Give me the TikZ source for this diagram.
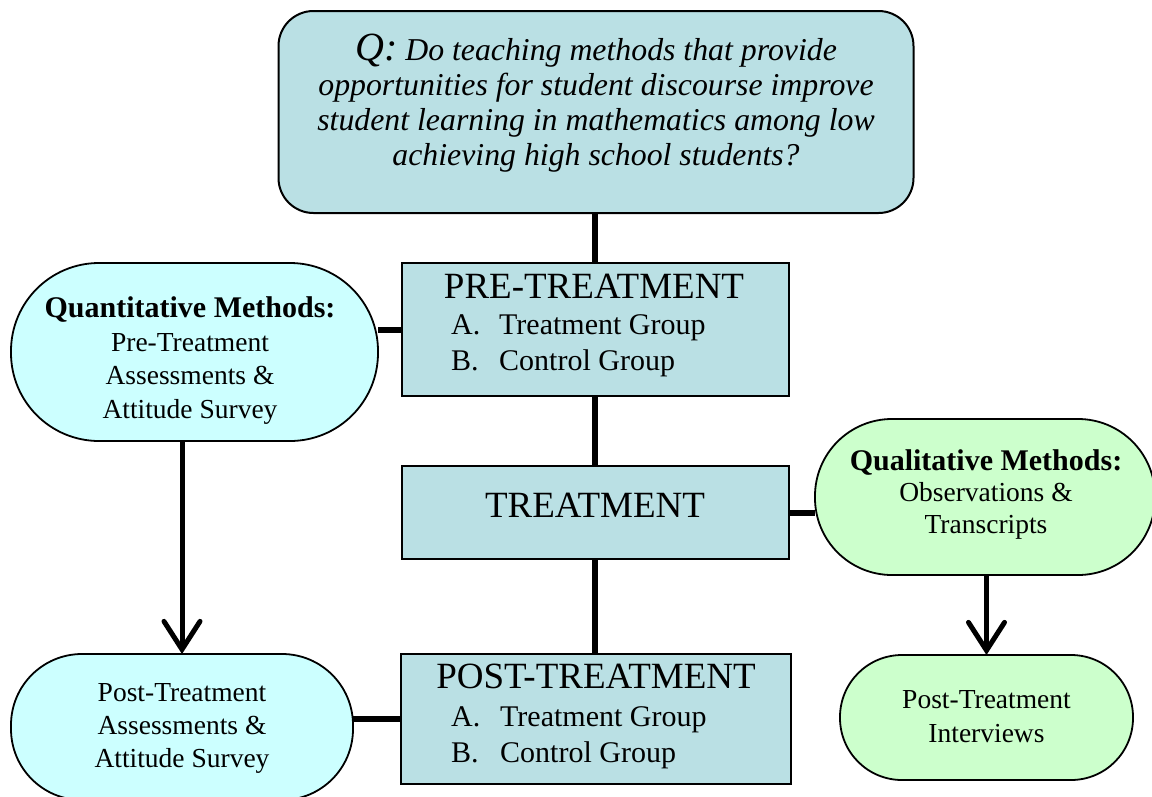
\documentclass[tikz,border=0pt]{standalone}
\usepackage{fontspec}
\setmainfont{Liberation Serif}
\usetikzlibrary{arrows.meta}
\definecolor{boxblue}{RGB}{186,224,228}
\definecolor{quantc}{RGB}{204,255,255}
\definecolor{qualc}{RGB}{204,255,204}
\begin{document}
\begin{tikzpicture}[x=1pt,y=-1pt,
  bx/.style={draw=black,line width=2pt,fill=boxblue,inner sep=0pt,outer sep=0pt},
  stad/.style={draw=black,line width=1.8pt,inner sep=0pt,outer sep=0pt},
  conn/.style={line width=6pt},
  arr/.style={line width=5pt,-{Straight Barb[length=28pt,width=36pt,line width=5pt,line cap=round]}},
  ttl/.style={anchor=base,font=\fontsize{37}{40}\selectfont,inner sep=0pt},
  itm/.style={anchor=base west,font=\fontsize{30}{34}\selectfont,inner sep=0pt},
  body/.style={anchor=base,align=center,inner sep=0pt},
]
\useasboundingbox (0,0) rectangle (1152,796);
\clip (0,0) rectangle (1152,796);

% question box
\node[bx,rounded corners=35pt,minimum width=635pt,minimum height=202pt] (q) at (596,112) {};
\node[body,font=\fontsize{31.8}{34.7}\selectfont\itshape] (qt) at (596,165)
  {{\fontsize{40}{34.7}\selectfont Q:} Do teaching methods that provide\\
   opportunities for student discourse improve\\
   student learning in mathematics among low\\
   achieving high school students?};

% centre column
\node[bx,minimum width=387pt,minimum height=133pt] (pre) at (595,329.5) {};
\node[ttl] (pret) at (594,298) {PRE-TREATMENT};
\node[itm] (prea) at (451,334) {A.};
\node[itm] (preat) at (499,334) {Treatment Group};
\node[itm] (preb) at (451,370) {B.};
\node[itm] (prebt) at (499,370) {Control Group};

\node[bx,minimum width=387pt,minimum height=93pt] (tr) at (595,512.5) {};
\node[ttl] (trt) at (595,517) {TREATMENT};

\node[bx,minimum width=390pt,minimum height=130pt] (post) at (596,719) {};
\node[ttl] (postt) at (596,688) {POST-TREATMENT};
\node[itm] (posta) at (451,726) {A.};
\node[itm] (postat) at (500,726) {Treatment Group};
\node[itm] (postb) at (451,762) {B.};
\node[itm] (postbt) at (500,762) {Control Group};

% quantitative side
\node[stad,fill=quantc,rounded corners=88pt,minimum width=367pt,minimum height=178pt] (quant) at (194.5,352) {};
\node[body,font=\fontsize{27.5}{33.4}\selectfont] (quantt) at (190,418)
  {{\fontsize{30}{33.4}\selectfont\bfseries Quantitative Methods:}\\
   Pre-Treatment\\ Assessments \&\\ Attitude Survey};

\node[stad,fill=quantc,rounded corners=71pt,minimum width=342pt,minimum height=146pt] (pq) at (182,727) {};
\node[body,font=\fontsize{27.5}{32.7}\selectfont] (pqt) at (182,767)
  {Post-Treatment\\ Assessments \&\\ Attitude Survey};

% qualitative side
\node[stad,fill=qualc,rounded corners=77pt,minimum width=340pt,minimum height=156pt] (qual) at (985,497) {};
\node[body,font=\fontsize{27.5}{31.5}\selectfont] (qualt) at (986,533)
  {{\fontsize{30}{31.5}\selectfont\bfseries Qualitative Methods:}\\
   Observations \&\\ Transcripts};

\node[stad,fill=qualc,rounded corners=62pt,minimum width=293pt,minimum height=125pt] (intv) at (986.5,717.5) {};
\node[body,font=\fontsize{27.5}{34}\selectfont] (intvt) at (986.5,742)
  {Post-Treatment\\ Interviews};

% connectors
\draw[conn] (q.south -| pre.north) -- (pre.north);
\draw[conn] (pre.south) -- (tr.north);
\draw[conn] (tr.south) -- (tr.south |- post.north);
\draw[conn] (quant.east |- pre.west) -- (pre.west);
\draw[conn] (pq.east |- post.west) -- (post.west);
\draw[conn] (tr.east) -- (tr.east -| qual.west);
\draw[arr] (quant.south -| pq.north) -- (pq.north);
\draw[arr] (qual.south -| intv.north) -- (intv.north);
\end{tikzpicture}
\end{document}
